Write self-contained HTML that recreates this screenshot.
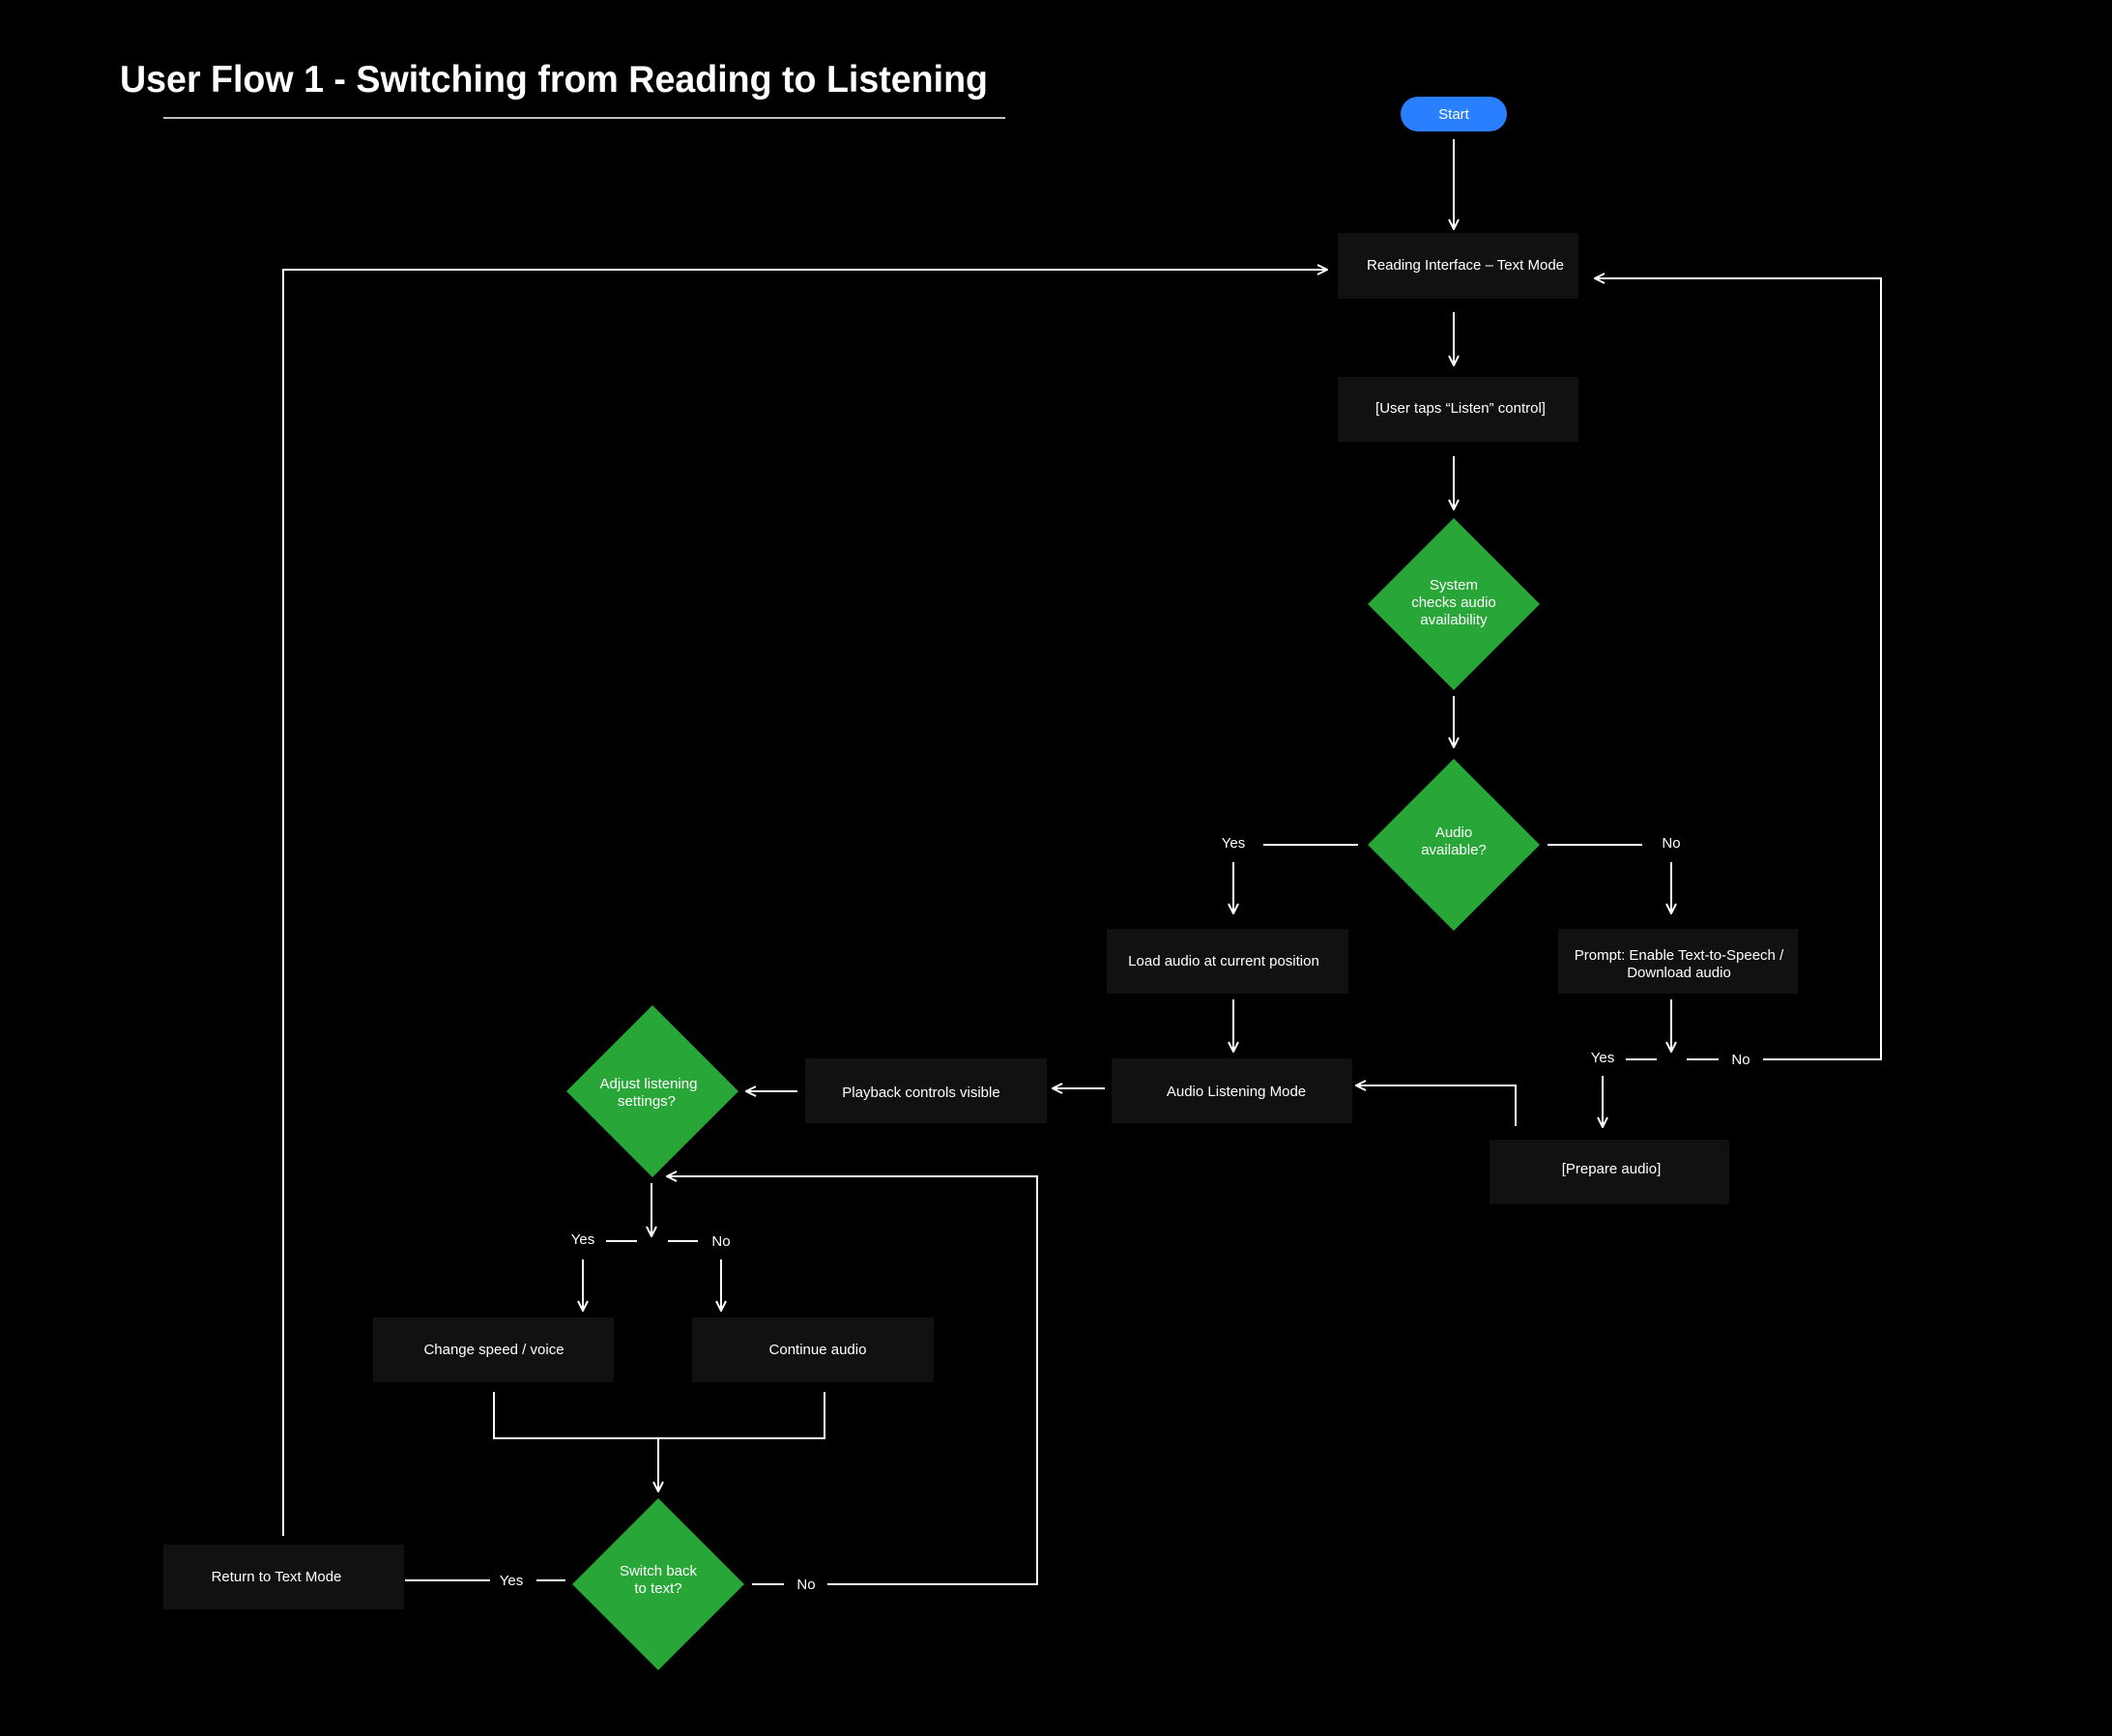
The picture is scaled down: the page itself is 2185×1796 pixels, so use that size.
<!DOCTYPE html>
<html><head><meta charset="utf-8"><style>
html,body{margin:0;padding:0;background:#000;}
svg{display:block;}
text{font-family:"Liberation Sans",sans-serif;fill:#fff;}
</style></head><body>
<svg width="2185" height="1796" viewBox="0 0 2185 1796" xmlns="http://www.w3.org/2000/svg">
<defs>
<marker id="a" viewBox="0 0 12 12" refX="11" refY="6" markerWidth="12" markerHeight="12" markerUnits="userSpaceOnUse" orient="auto">
<path d="M1,1 L11,6 L1,11" fill="none" stroke="#fff" stroke-width="2"/>
</marker>
</defs>
<rect width="2185" height="1796" fill="#000"/>
<text x="124" y="95" font-size="39" font-weight="bold" textLength="898" lengthAdjust="spacingAndGlyphs">User Flow 1 - Switching from Reading to Listening</text>
<line x1="169" y1="122" x2="1040" y2="122" stroke="#fff" stroke-width="1.5"/>

<g stroke="#fff" stroke-width="2" fill="none">
<line x1="1504" y1="144" x2="1504" y2="237" marker-end="url(#a)"/>
<line x1="1504" y1="323" x2="1504" y2="378" marker-end="url(#a)"/>
<line x1="1504" y1="472" x2="1504" y2="527" marker-end="url(#a)"/>
<line x1="1504" y1="720" x2="1504" y2="773" marker-end="url(#a)"/>
<line x1="1307" y1="874" x2="1405" y2="874"/>
<line x1="1601" y1="874" x2="1699" y2="874"/>
<line x1="1276" y1="892" x2="1276" y2="945" marker-end="url(#a)"/>
<line x1="1729" y1="892" x2="1729" y2="945" marker-end="url(#a)"/>
<line x1="1276" y1="1034" x2="1276" y2="1088" marker-end="url(#a)"/>
<line x1="1729" y1="1034" x2="1729" y2="1088" marker-end="url(#a)"/>
<line x1="1682" y1="1096" x2="1714" y2="1096"/>
<line x1="1745" y1="1096" x2="1778" y2="1096"/>
<polyline points="1824,1096 1946,1096 1946,288 1650,288" marker-end="url(#a)"/>
<line x1="1658" y1="1113" x2="1658" y2="1166" marker-end="url(#a)"/>
<polyline points="1568,1165 1568,1123 1403,1123" marker-end="url(#a)"/>
<line x1="1143" y1="1126" x2="1089" y2="1126" marker-end="url(#a)"/>
<line x1="825" y1="1129" x2="772" y2="1129" marker-end="url(#a)"/>
<line x1="674" y1="1224" x2="674" y2="1279" marker-end="url(#a)"/>
<line x1="627" y1="1284" x2="659" y2="1284"/>
<line x1="691" y1="1284" x2="722" y2="1284"/>
<line x1="603" y1="1303" x2="603" y2="1356" marker-end="url(#a)"/>
<line x1="746" y1="1303" x2="746" y2="1356" marker-end="url(#a)"/>
<polyline points="511,1440 511,1488 853,1488 853,1440"/>
<line x1="681" y1="1488" x2="681" y2="1543" marker-end="url(#a)"/>
<line x1="419" y1="1635" x2="507" y2="1635"/>
<line x1="555" y1="1635" x2="585" y2="1635"/>
<line x1="778" y1="1639" x2="811" y2="1639"/>
<polyline points="856,1639 1073,1639 1073,1217 690,1217" marker-end="url(#a)"/>
<polyline points="293,1589 293,279 1373,279" marker-end="url(#a)"/>
</g>

<rect x="1449" y="100" width="110" height="36" rx="18" fill="#2a7fff"/>
<text x="1504" y="123" font-size="15" text-anchor="middle">Start</text>

<g fill="#111">
<rect x="1384" y="241" width="249" height="68"/>
<rect x="1384" y="390" width="249" height="67"/>
<rect x="1145" y="961" width="250" height="67"/>
<rect x="1612" y="961" width="248" height="67"/>
<rect x="1541" y="1179" width="248" height="67"/>
<rect x="1150" y="1095" width="249" height="67"/>
<rect x="833" y="1095" width="250" height="67"/>
<rect x="386" y="1363" width="249" height="67"/>
<rect x="716" y="1363" width="250" height="67"/>
<rect x="169" y="1598" width="249" height="67"/>
</g>
<g fill="#28a738">
<polygon points="1504,536 1593,625 1504,714 1415,625"/>
<polygon points="1504,785 1593,874 1504,963 1415,874"/>
<polygon points="675,1040 764,1129 675,1218 586,1129"/>
<polygon points="681,1550 770,1639 681,1728 592,1639"/>
</g>

<g font-size="15" text-anchor="middle">
<text x="1516" y="279">Reading Interface – Text Mode</text>
<text x="1511" y="427">[User taps “Listen” control]</text>
<text x="1504" y="610">System</text>
<text x="1504" y="628">checks audio</text>
<text x="1504" y="646">availability</text>
<text x="1504" y="866">Audio</text>
<text x="1504" y="884">available?</text>
<text x="1276" y="877">Yes</text>
<text x="1729" y="877">No</text>
<text x="1266" y="999">Load audio at current position</text>
<text x="1737" y="993">Prompt: Enable Text-to-Speech /</text>
<text x="1737" y="1011">Download audio</text>
<text x="1658" y="1099">Yes</text>
<text x="1801" y="1101">No</text>
<text x="1667" y="1214">[Prepare audio]</text>
<text x="1279" y="1134">Audio Listening Mode</text>
<text x="953" y="1135">Playback controls visible</text>
<text x="671" y="1126">Adjust listening</text>
<text x="669" y="1144">settings?</text>
<text x="603" y="1287">Yes</text>
<text x="746" y="1289">No</text>
<text x="511" y="1401">Change speed / voice</text>
<text x="846" y="1401">Continue audio</text>
<text x="286" y="1636">Return to Text Mode</text>
<text x="529" y="1640">Yes</text>
<text x="681" y="1630">Switch back</text>
<text x="681" y="1648">to text?</text>
<text x="834" y="1644">No</text>
</g>
</svg>
</body></html>
